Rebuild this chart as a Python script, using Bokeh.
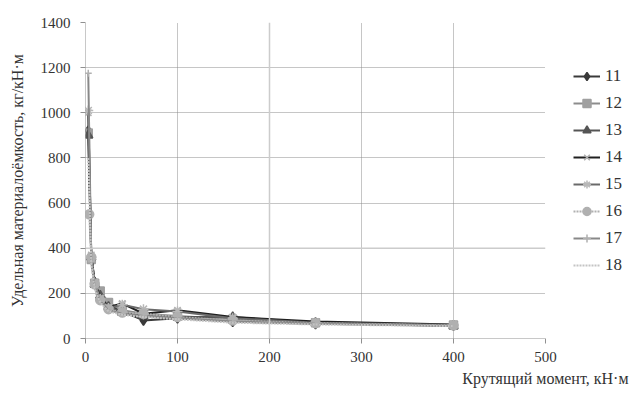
from bokeh.plotting import figure
from bokeh.models import Legend, LegendItem, Span, Title, Range1d, FixedTicker
from bokeh.embed import file_html
from bokeh.resources import INLINE

names = ["11", "12", "13", "14", "15", "16", "17", "18"]
x_vals = [3, 6.3, 10, 16, 25, 40, 63, 100, 160, 250, 400]
x_16 = [4, 6.3, 10, 16, 25, 40, 63, 100, 160, 250, 400]
s11 = [920, 360, 250, 200, 150, 120, 80, 90, 75, 65, 58]
s12 = [910, 350, 245, 210, 160, 125, 110, 100, 85, 70, 60]
s13 = [900, 360, 240, 190, 140, 115, 100, 95, 95, 70, 55]
s14 = [1000, 370, 250, 180, 140, 155, 110, 125, 95, 75, 62]
s15 = [1010, 360, 245, 175, 135, 150, 130, 120, 90, 70, 60]
s16 = [550, 360, 240, 170, 130, 115, 110, 95, 80, 68, 58]
s17 = [1175, 340, 230, 165, 125, 110, 100, 90, 75, 65, 55]
s18 = [800, 330, 220, 160, 120, 105, 95, 85, 70, 62, 55]
x_ticks = [0, 100, 200, 300, 400, 500]
y_ticks = [0, 200, 400, 600, 800, 1000, 1200, 1400]

series = [
    (x_vals, s11, "#3a3a3a", "solid", "diamond", "#3a3a3a", 10),
    (x_vals, s12, "#8c8c8c", "solid", "square", "#a0a0a0", 8),
    (x_vals, s13, "#555555", "solid", "triangle", "#555555", 9),
    (x_vals, s14, "#202020", "solid", "x", "#b0b0b0", 9),
    (x_vals, s15, "#6a6a6a", "solid", "asterisk", "#b8b8b8", 10),
    (x_16, s16, "#b0b0b0", "2 1", "circle", "#b0b0b0", 9),
    (x_vals, s17, "#888888", "solid", "cross", "#b0b0b0", 7),
    (x_vals, s18, "#c4c4c4", "2 1", None, None, 0),
]

FONT = "Liberation Serif"

p = figure(frame_width=460, frame_height=316,
           x_range=Range1d(0, 500), y_range=Range1d(0, 1400),
           output_backend="svg", toolbar_location=None,
           min_border_left=85, min_border_top=22, min_border_bottom=20,
           min_border_right=79)
p.outline_line_color = None
p.background_fill_color = "white"

for ax in (p.xaxis[0], p.yaxis[0]):
    ax.axis_line_color = "#909090"
    ax.axis_line_dash = "1 1"
    ax.major_tick_line_color = "#909090"
    ax.major_tick_out = 5
    ax.major_tick_in = 0
    ax.minor_tick_line_color = None
    ax.major_label_text_font = FONT
    ax.major_label_text_font_size = "15px"
    ax.major_label_text_color = "#333333"
    ax.axis_label_text_font = FONT
    ax.axis_label_text_font_style = "normal"
    ax.axis_label_text_font_size = "16px"
    ax.axis_label_text_color = "#333333"

p.xaxis.ticker = FixedTicker(ticks=x_ticks)
p.yaxis.ticker = FixedTicker(ticks=y_ticks)
p.xaxis.major_label_standoff = 8
p.yaxis.major_label_standoff = 10
p.yaxis.axis_label = "Удельная материалоёмкость, кг/кН·м"
p.yaxis.axis_label_standoff = 12

for g in (p.xgrid[0], p.ygrid[0]):
    g.grid_line_color = "#8c8c8c"
    g.grid_line_dash = "1 1"
    g.grid_line_width = 1

p.add_layout(Span(location=400, dimension="width", line_color="#cccccc", line_width=1.5))
p.add_layout(Span(location=200, dimension="height", line_color="#cccccc", line_width=1.5))

items = []
for name, (xs, ys, lc, dash, mk, mc, ms) in zip(names, series):
    rs = [p.line(xs, ys, line_color=lc, line_width=2, line_dash=dash)]
    if mk is not None:
        rs.append(p.scatter(xs, ys, marker=mk, size=ms, line_color=mc,
                            fill_color=mc, line_width=1.5))
    items.append(LegendItem(label=name, renderers=rs))

legend = Legend(items=items, location=(28, 63), glyph_width=27, glyph_height=20,
                label_standoff=5, spacing=7, padding=0, margin=0,
                border_line_color=None, background_fill_alpha=0,
                label_text_font=FONT, label_text_font_size="17px",
                label_text_color="#333333")
p.add_layout(legend, "right")

xt = Title(text="Крутящий момент, кН·м", align="right", offset=-83,
           text_font=FONT, text_font_size="16px", text_font_style="normal",
           text_color="#333333", standoff=6)
p.add_layout(xt, "below")

open("out.html", "w").write(file_html(p, INLINE))
